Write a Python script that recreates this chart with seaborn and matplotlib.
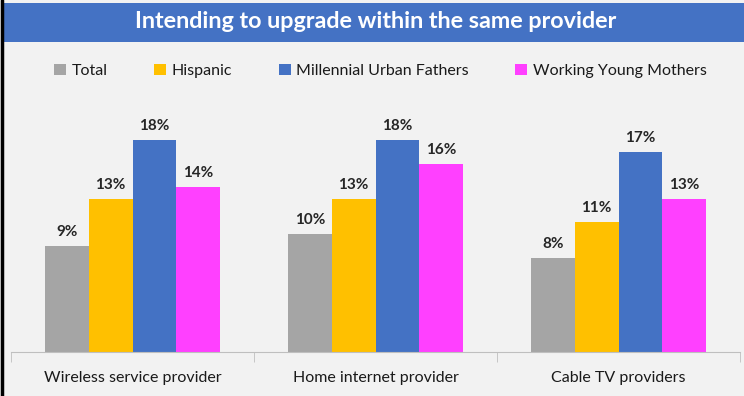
import pandas as pd
import numpy as np
import matplotlib.pyplot as plt
import seaborn as sns
from matplotlib.patches import Patch, Rectangle
from matplotlib.lines import Line2D

# Datos del gráfico
categorias = ["Wireless service provider", "Home internet provider", "Cable TV providers"]
segmentos = ["Total", "Hispanic", "Millennial Urban Fathers", "Working Young Mothers"]
total = [9, 10, 8]
hispanic = [13, 13, 11]
padres = [18, 18, 17]
madres = [14, 16, 13]
colores = ["#A5A5A5", "#FFC000", "#4472C4", "#FF40FF"]

titulo = "Intending to upgrade within the same provider"

# Tabla larga para seaborn
filas = []
for seg, vals in zip(segmentos, [total, hispanic, padres, madres]):
    for cat, v in zip(categorias, vals):
        filas.append({"categoria": cat, "segmento": seg, "valor": v})
df = pd.DataFrame(filas)

sns.set_style("white")
plt.rcParams['font.family'] = ['Lato', 'DejaVu Sans']

fondo = "#F2F2F2"
fig = plt.figure(figsize=(7.44, 3.96), dpi=100)
fig.patch.set_facecolor(fondo)
ax = fig.add_axes([11 / 744, 1 - 352 / 396, 729 / 744, 235.6 / 396])
ax.set_facecolor(fondo)

sns.barplot(data=df, x="categoria", y="valor", hue="segmento",
            hue_order=segmentos, palette=colores, width=0.72, gap=0,
            saturation=1, linewidth=0, ax=ax, legend=False)

for cont in ax.containers:
    ax.bar_label(cont, fmt="%d%%", padding=5, fontsize=11,
                 fontweight="bold", color="#262626")

ax.set_ylim(0, 20)
ax.set_xlim(-0.5, 2.5)
ax.set_xlabel("")
ax.set_ylabel("")
ax.set_yticks([])
for lado in ["top", "right", "left"]:
    ax.spines[lado].set_visible(False)
ax.spines["bottom"].set_color("#BFBFBF")
ax.set_xticks([-0.5, 0.5, 1.5, 2.5], minor=True)
ax.tick_params(axis="x", which="minor", length=7, color="#BFBFBF", bottom=True)
ax.tick_params(axis="x", which="major", length=0, pad=14, labelsize=11.5,
               labelcolor="#1a1a1a")

# Banda del título
fig.patches.append(Rectangle((3 / 744, 1 - 42 / 396), 741 / 744, 39 / 396,
                             transform=fig.transFigure, facecolor="#4472C4",
                             edgecolor="none", zorder=0))
fig.text(376 / 744, 1 - 22 / 396, titulo, ha="center", va="center",
         color="white", fontsize=16.8, fontweight="bold")
# borde izquierdo
fig.lines.append(Line2D([1.5 / 744, 1.5 / 744], [0, 1], transform=fig.transFigure,
                        color="black", linewidth=2.5))

manejadores = [Patch(facecolor=c, edgecolor="none") for c in colores]
fig.legend(manejadores, segmentos, loc="center left",
           bbox_to_anchor=(40 / 744, 1 - 71 / 396), ncol=4, frameon=False,
           fontsize=11.5, handlelength=0.75, handleheight=0.75,
           handletextpad=0.35, columnspacing=2.9, labelcolor="#1a1a1a")

fig.savefig("out.png", dpi=100, facecolor=fondo)
